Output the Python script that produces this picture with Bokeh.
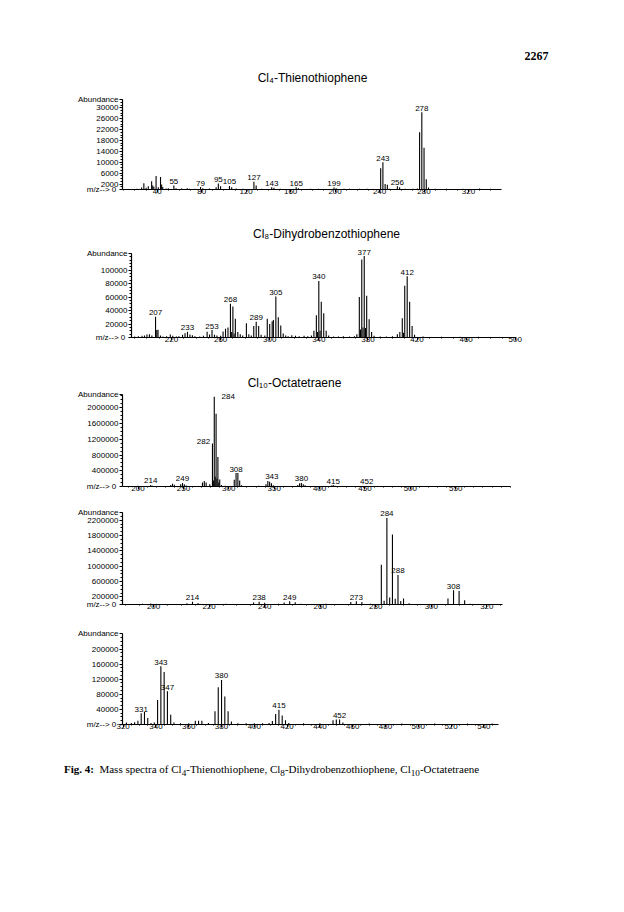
from bokeh.plotting import figure
from bokeh.models import Range1d, FixedTicker, PrintfTickFormatter, Label, LabelSet, ColumnDataSource, Div
from bokeh.layouts import column, row
from bokeh.embed import file_html
from bokeh.resources import INLINE
from bokeh.core.properties import value

SANS = "Liberation Sans"
SERIF = "Liberation Serif"

# ---------------- data ----------------
page_number = "2267"
caption_html = ("<b>Fig. 4:</b>&nbsp;&nbsp;Mass spectra of Cl<sub>4</sub>-Thienothiophene, "
                "Cl<sub>8</sub>-Dihydrobenzothiophene, Cl<sub>10</sub>-Octatetraene")

# Panel 1: Cl4-Thienothiophene
p1_title = "Cl₄-Thienothiophene"
p1_mz = [22, 26, 28, 30, 32, 35, 36, 37, 39, 41, 43, 44, 45, 48, 50, 55, 57, 62, 67, 69, 74, 79, 81, 87,
         93, 95, 97, 105, 107, 111, 117, 127, 129, 134, 143, 145, 151, 165, 167, 178, 185, 199, 201, 208,
         213, 222, 229, 241, 243, 245, 247, 249, 256, 258, 263, 270, 274, 276, 278, 280, 282, 284, 290,
         300, 315, 330, 340]
p1_ab = [300, 700, 2300, 600, 1200, 3000, 1500, 1000, 5000, 800, 4600, 1800, 900, 400, 500, 1500, 500, 400,
         500, 300, 300, 900, 500, 400, 800, 2200, 1200, 1300, 800, 400, 300, 2800, 1500, 300, 800, 600, 300,
         800, 500, 300, 300, 700, 500, 300, 300, 300, 300, 7800, 10000, 2000, 1700, 300, 1200, 800, 300,
         300, 400, 21000, 28400, 15300, 3800, 700, 300, 300, 300, 400, 300]
p1_labels = [55, 79, 95, 105, 127, 143, 165, 199, 243, 256, 278]
p1_xrange = (8.8, 445.9)        # plotting area
p1_xaxis = (8.8, 350.0)         # drawn extent of the m/z axis
p1_yrange = (0, 69400)
p1_ytop = 33000                 # drawn extent of the abundance axis
p1_xticks = [40, 80, 120, 160, 200, 240, 280, 320]
p1_yticks = [0, 2000, 6000, 10000, 14000, 18000, 22000, 26000, 30000]

# Panel 2: Cl8-Dihydrobenzothiophene
p2_title = "Cl₈-Dihydrobenzothiophene"
p2_mz = [190, 193, 196, 198, 200, 202, 204, 207, 208, 209, 211, 213, 216, 219, 221, 224, 226, 229, 231, 233,
         235, 237, 239, 243, 246, 249, 251, 253, 255, 257, 260, 262, 264, 266, 268, 269, 270, 271, 272, 274,
         276, 278, 281, 283, 285, 287, 289, 291, 293, 296, 298, 300, 302, 303, 305, 307, 309, 311, 313, 315,
         318, 321, 324, 328, 331, 334, 336, 338, 339, 340, 341, 342, 344, 346, 348, 352, 356, 360, 365, 369,
         371, 373, 374, 375, 376, 377, 378, 379, 381, 383, 385, 390, 395, 400, 404, 406, 408, 409, 410, 412,
         414, 416, 418, 425, 440, 455, 470]
p2_ab = [1500, 2000, 2500, 3000, 4500, 5000, 3000, 31000, 11000, 11500, 3000, 1500, 2000, 4500, 2500, 1500,
         2000, 4000, 6500, 8500, 4500, 3500, 2000, 1500, 2500, 8500, 4500, 11000, 4000, 3000, 2500, 9000,
         13000, 15000, 50000, 8000, 46000, 6000, 28000, 8000, 5000, 3000, 21000, 5000, 3000, 17000, 23500,
         17000, 4000, 3000, 28000, 20000, 24000, 26000, 61000, 30000, 18000, 6000, 3000, 2000, 3500, 2500,
         2000, 2500, 2000, 3000, 10000, 33000, 8000, 84000, 10000, 53000, 36000, 10000, 3000, 1500, 1500,
         2000, 1500, 2000, 5000, 60000, 12000, 116000, 15000, 121000, 14000, 62000, 27000, 8000, 2500, 1500,
         1500, 2000, 5000, 8000, 28500, 7000, 77000, 91000, 53000, 17000, 4000, 1500, 1000, 1000, 1000]
p2_labels = [207, 233, 253, 268, 289, 305, 340, 377, 412]
p2_xrange = (187.4, 576.0)
p2_xaxis = (187.4, 500.6)
p2_yrange = (0, 185750)
p2_ytop = 125000
p2_xticks = [220, 260, 300, 340, 380, 420, 460, 500]
p2_yticks = [0, 20000, 40000, 60000, 80000, 100000]

# Panel 3: Cl10-Octatetraene (full range)
p3_title = "Cl₁₀-Octatetraene"
p3_mz = [200, 202, 210, 214, 216, 226, 236, 238, 240, 247, 249, 251, 253, 262, 271, 273, 275, 279, 282, 283,
         284, 285, 286, 287, 288, 289, 290, 292, 296, 306, 308, 310, 312, 314, 320, 331, 333, 341, 343, 345,
         347, 349, 376, 378, 380, 382, 384, 413, 415, 417, 450, 452, 454, 500, 520, 580]
p3_ab = [20000, 15000, 15000, 40000, 20000, 10000, 40000, 70000, 45000, 60000, 90000, 60000, 25000, 15000,
         100000, 140000, 100000, 60000, 1090000, 150000, 2280000, 250000, 1850000, 200000, 750000, 100000,
         180000, 40000, 20000, 170000, 340000, 340000, 150000, 30000, 15000, 15000, 20000, 60000, 140000,
         120000, 80000, 30000, 35000, 80000, 90000, 60000, 30000, 25000, 35000, 20000, 15000, 15000, 10000,
         8000, 8000, 8000]
p3_labels = [214, 249, 282, 284, 308, 343, 380, 415, 452]
p3_xrange = (182.9, 718.3)
p3_xaxis = (182.9, 610.0)
p3_yrange = (0, 3201900)
p3_ytop = 2340000
p3_xticks = [200, 250, 300, 350, 400, 450, 500, 550]
p3_yticks = [0, 400000, 800000, 1200000, 1600000, 2000000]

# Panel 4: Cl10-Octatetraene, m/z 190-325
p4_mz = [191, 196, 199, 203, 212, 214, 216, 221, 226, 231, 236, 238, 240, 245, 247, 249, 251, 253, 258, 262,
         266, 271, 273, 275, 278, 282, 283, 284, 285, 286, 287, 288, 289, 290, 292, 296, 300, 306, 308, 310,
         312, 314, 318]
p4_ab = [15000, 20000, 25000, 15000, 30000, 70000, 40000, 15000, 20000, 15000, 50000, 75000, 45000, 20000,
         55000, 85000, 60000, 20000, 15000, 20000, 15000, 65000, 85000, 65000, 20000, 1040000, 100000,
         2260000, 180000, 1830000, 150000, 770000, 90000, 157000, 30000, 15000, 15000, 157000, 370000,
         350000, 110000, 20000, 15000]
p4_labels = [214, 238, 249, 273, 284, 288, 308]
p4_xrange = (188.8, 363.8)
p4_xaxis = (188.8, 325.6)
p4_yrange = (0, 2662200)
p4_ytop = 2410000
p4_xticks = [200, 220, 240, 260, 280, 300, 320]
p4_yticks = [0, 200000, 600000, 1000000, 1400000, 1800000, 2200000]

# Panel 5: Cl10-Octatetraene, m/z 320-550
p5_mz = [322, 325, 327, 329, 331, 333, 335, 337, 339, 341, 343, 345, 347, 349, 351, 355, 360, 364, 366, 368,
         372, 376, 378, 380, 382, 384, 386, 390, 395, 400, 405, 409, 411, 413, 415, 417, 419, 421, 430, 440,
         448, 450, 452, 454, 470, 490, 510, 530, 545]
p5_ab = [5000, 4000, 6000, 10000, 30000, 33000, 17000, 4000, 5000, 65000, 154000, 139000, 88000, 26000, 5000,
         3000, 3000, 10000, 10000, 10000, 4000, 35000, 99000, 118000, 74000, 35000, 8000, 3000, 3000, 3000,
         3000, 4000, 9000, 28000, 39000, 24000, 11000, 4000, 3000, 3000, 11000, 13000, 13000, 5000, 2500,
         2500, 2500, 2500, 2500]
p5_labels = [331, 343, 347, 380, 415, 452]
p5_xrange = (319.6, 616.0)
p5_xaxis = (319.6, 549.0)
p5_yrange = (0, 275500)
p5_ytop = 240000
p5_xticks = [320, 340, 360, 380, 400, 420, 440, 460, 480, 500, 520, 540]
p5_yticks = [0, 40000, 80000, 120000, 160000, 200000]


# ---------------- drawing ----------------
def panel(mz, ab, labels, xr, xa, yr, ytop, xticks, xminor, yticks, yminor,
          w, h, mbl, mbb, lab_dx=None, lab_dy=None):
    p = figure(width=w, height=h, x_range=Range1d(*xr), y_range=Range1d(*yr),
               output_backend="svg", toolbar_location=None,
               min_border_left=mbl, min_border_right=0, min_border_top=0, min_border_bottom=mbb)
    p.grid.visible = False
    p.outline_line_color = None
    src = ColumnDataSource(dict(mz=mz, ab=ab))
    p.segment(x0="mz", y0=0, x1="mz", y1="ab", source=src, line_color="black", line_width=1.1)

    heights = dict(zip(mz, ab))
    n = len(labels)
    lsrc = ColumnDataSource(dict(x=labels, y=[heights[m] for m in labels], t=[str(m) for m in labels],
                                 dx=lab_dx if lab_dx else [0] * n, dy=lab_dy if lab_dy else [4] * n))
    p.add_layout(LabelSet(x="x", y="y", text="t", x_offset="dx", y_offset="dy", source=lsrc,
                          text_align="center", text_baseline="middle", text_font=value(SANS),
                          text_font_size="8px", text_color="black"))

    p.xaxis.bounds = xa
    p.yaxis.bounds = (0, ytop)
    p.xaxis.ticker = FixedTicker(ticks=xticks, minor_ticks=xminor)
    p.yaxis.ticker = FixedTicker(ticks=list(yticks) + [ytop], minor_ticks=yminor)
    p.xaxis.formatter = PrintfTickFormatter(format="%d")
    p.yaxis.formatter = PrintfTickFormatter(format="%d")
    p.yaxis.major_label_overrides = {0: "m/z-->  0", ytop: "Abundance"}
    for ax in (p.xaxis[0], p.yaxis[0]):
        ax.axis_line_color = "black"
        ax.axis_line_width = 1.2
        ax.major_tick_line_color = "black"
        ax.minor_tick_line_color = "black"
        ax.major_tick_in = 0
        ax.minor_tick_in = 0
        ax.major_label_text_font = SANS
        ax.major_label_text_font_size = "8px"
        ax.major_label_text_color = "black"
    p.xaxis.major_tick_out = 3
    p.xaxis.minor_tick_out = 1
    p.xaxis.major_label_standoff = -4
    p.yaxis.major_tick_out = 3
    p.yaxis.minor_tick_out = 2
    p.yaxis.major_label_standoff = 1
    return p


def add_text(p, text, xr, dx, dy, size="12px", font=SANS, align="center", style="normal"):
    p.add_layout(Label(x=xr[0], y=0, x_offset=dx, y_offset=dy, text=text, text_align=align,
                       text_baseline="middle", text_font=font, text_font_size=size,
                       text_font_style=style, text_color="black"))


W = 608
f1 = panel(p1_mz, p1_ab, p1_labels, p1_xrange, p1_xaxis, p1_yrange, p1_ytop, p1_xticks,
           list(range(10, 350, 10)), p1_yticks, list(range(0, 33001, 1000)), W, 212, 122, 23)
add_text(f1, p1_title, p1_xrange, 190, 112)
add_text(f1, page_number, p1_xrange, 426, 134, size="12px", font=SERIF, align="right", style="bold")

f2 = panel(p2_mz, p2_ab, p2_labels, p2_xrange, p2_xaxis, p2_yrange, p2_ytop, p2_xticks,
           list(range(190, 501, 10)), p2_yticks, list(range(0, 125001, 5000)), W, 148, 131, 23)
add_text(f2, p2_title, p2_xrange, 195, 104)

p3_dx = [0, 0, -9, 14, 0, 4, 0, 0, 0]
p3_dy = [4, 4, 2, 0, 4, 4, 4, 4, 4]
f3 = panel(p3_mz, p3_ab, p3_labels, p3_xrange, p3_xaxis, p3_yrange, p3_ytop, p3_xticks,
           list(range(190, 611, 10)), p3_yticks, list(range(0, 2340001, 100000)), W, 142, 122, 16,
           p3_dx, p3_dy)
add_text(f3, p3_title, p3_xrange, 172, 104)

f4 = panel(p4_mz, p4_ab, p4_labels, p4_xrange, p4_xaxis, p4_yrange, p4_ytop, p4_xticks,
           list(range(190, 326, 5)), p4_yticks, list(range(0, 2410001, 100000)), W, 118, 122, 16)

f5 = panel(p5_mz, p5_ab, p5_labels, p5_xrange, p5_xaxis, p5_yrange, p5_ytop, p5_xticks,
           list(range(320, 550, 5)), p5_yticks, list(range(0, 240001, 10000)), W, 120, 122, 16)

caption = Div(text='<div style="font-family: \'Liberation Serif\', serif; font-size: 11px; '
                   'color: black; white-space: nowrap; line-height: 13px;">' + caption_html + '</div>',
              width=560, height=16, margin=(21, 0, 0, 64))

# the middle panel's axis sits further right, so it is kept in its own row
layout = column(f1, row(f2), f3, f4, f5, caption)
open("out.html", "w").write(file_html(layout, INLINE))
